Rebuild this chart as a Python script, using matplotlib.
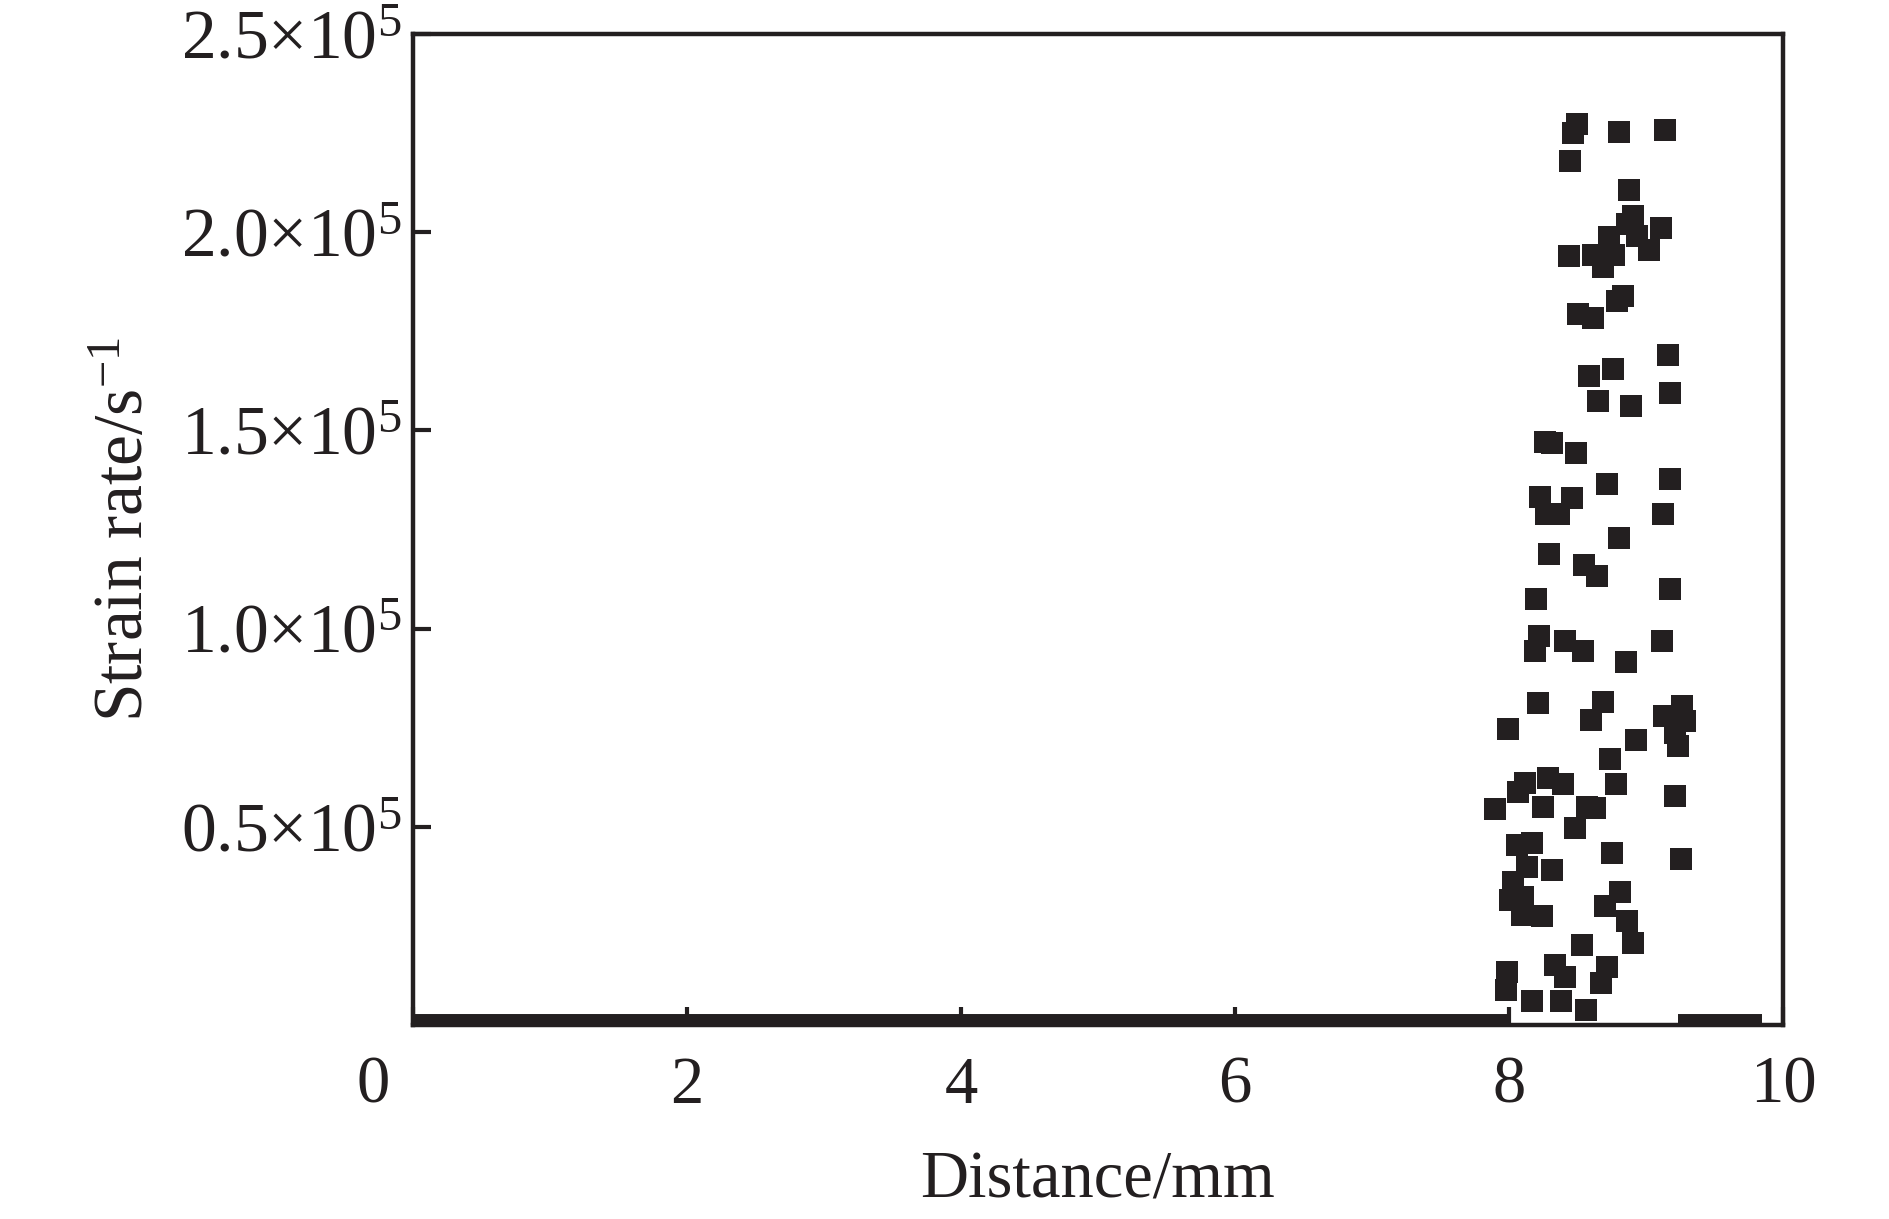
import numpy as np
import matplotlib
matplotlib.use("Agg")
import matplotlib.pyplot as plt
from matplotlib.transforms import ScaledTranslation

plt.rcParams['font.family'] = ['Liberation Serif', 'DejaVu Serif']
plt.rcParams['mathtext.fontset'] = 'custom'
plt.rcParams['mathtext.rm'] = 'Liberation Serif'
plt.rcParams['mathtext.it'] = 'Liberation Serif:italic'
plt.rcParams['mathtext.bf'] = 'Liberation Serif:bold'

INK = '#231f20'

# Distance (mm) of non-zero strain-rate points
distance_mm = [
    8.494, 8.469, 8.803, 9.141, 8.447, 8.874, 8.903, 8.864, 8.932, 9.112,
    9.024, 8.728, 8.440, 8.611, 8.766, 8.688, 8.834, 8.786, 8.506, 8.615,
    9.163, 8.761, 8.582, 8.652, 8.891, 9.175, 8.263, 8.312, 8.489, 8.718,
    9.175, 9.126, 8.228, 8.460, 8.270, 8.367, 8.801, 8.294, 8.547, 8.640,
    9.175, 8.197, 8.219, 8.190, 8.411, 8.538, 9.117, 8.852, 8.209, 7.995,
    8.684, 8.601, 8.925, 9.261, 9.131, 9.285, 9.212, 9.236, 8.739, 8.781,
    9.212, 8.117, 8.068, 8.287, 8.396, 7.898, 8.246, 8.567, 8.628, 8.482,
    8.058, 8.166, 8.312, 8.129, 8.749, 9.255, 8.031, 8.007, 8.104, 8.093,
    8.239, 8.810, 8.701, 8.859, 8.907, 8.531, 8.336, 8.409, 8.713, 8.669,
    7.988, 7.978, 8.166, 8.380, 8.562,
]
# Strain rate in units of 1e5 s^-1
strain_rate_e5 = [
    2.272, 2.250, 2.252, 2.257, 2.179, 2.106, 2.041, 2.020, 1.991, 2.011,
    1.955, 1.989, 1.940, 1.942, 1.942, 1.911, 1.839, 1.826, 1.794, 1.783,
    1.689, 1.654, 1.637, 1.574, 1.561, 1.595, 1.470, 1.467, 1.442, 1.364,
    1.377, 1.290, 1.333, 1.329, 1.289, 1.289, 1.229, 1.189, 1.160, 1.133,
    1.099, 1.075, 0.981, 0.944, 0.969, 0.944, 0.968, 0.916, 0.812, 0.747,
    0.814, 0.769, 0.719, 0.806, 0.780, 0.767, 0.736, 0.705, 0.671, 0.608,
    0.578, 0.610, 0.589, 0.622, 0.608, 0.544, 0.549, 0.551, 0.548, 0.496,
    0.454, 0.458, 0.391, 0.399, 0.435, 0.419, 0.362, 0.315, 0.324, 0.278,
    0.275, 0.335, 0.301, 0.262, 0.208, 0.202, 0.151, 0.122, 0.147, 0.107,
    0.134, 0.088, 0.061, 0.061, 0.038,
]
# Distance ranges (mm) where the strain rate is zero (densely sampled points)
zero_run_start = [0.0, 9.23]
zero_run_end = [7.99, 9.85]

x_ticks = [0, 2, 4, 6, 8, 10]
y_ticks_e5 = [0.5, 1.0, 1.5, 2.0, 2.5]
y_tick_labels = ['0.5×10$^{5}$', '1.0×10$^{5}$', '1.5×10$^{5}$',
                 '2.0×10$^{5}$', '2.5×10$^{5}$']

fig = plt.figure(figsize=(18.89, 12.19), dpi=100)
ax = fig.add_axes([413 / 1889, 194 / 1219, 1370 / 1889, 991 / 1219])

y = np.array(strain_rate_e5) * 1e5
ax.plot(distance_mm, y, linestyle='none', marker='s', markersize=15.8,
        markeredgewidth=0, color=INK, zorder=3)
for s, e in zip(zero_run_start, zero_run_end):
    ax.plot([s, e], [0, 0], color=INK, lw=15.8, solid_capstyle='butt', zorder=3)

ax.set_xlim(0, 10)
ax.set_ylim(0, 2.5e5)
ax.set_xticks(x_ticks)
ax.set_xticklabels([str(t) for t in x_ticks])
ax.set_yticks(np.array(y_ticks_e5) * 1e5)
ax.set_yticklabels(y_tick_labels)

for sp in ax.spines.values():
    sp.set_linewidth(3.2)
    sp.set_color(INK)
    sp.set_zorder(4)

ax.tick_params(direction='in', length=13, width=3.0, color=INK,
               labelcolor=INK)
ax.tick_params(axis='x', pad=22, labelsize=48)
ax.tick_params(axis='y', pad=8, labelsize=50)

# shift the "0" x label left as in the original
lab0 = ax.get_xticklabels()[0]
lab0.set_transform(lab0.get_transform() + ScaledTranslation(-0.40, 0, fig.dpi_scale_trans))

ax.set_xlabel('Distance/mm', fontsize=48, color=INK)
ax.set_ylabel('Strain rate/s$^{-1}$', fontsize=50, color=INK)
ax.xaxis.set_label_coords(0.5, -0.127)
ax.yaxis.set_label_coords(-0.186, 0.5)

fig.savefig('out.png', dpi=100, facecolor='white')
